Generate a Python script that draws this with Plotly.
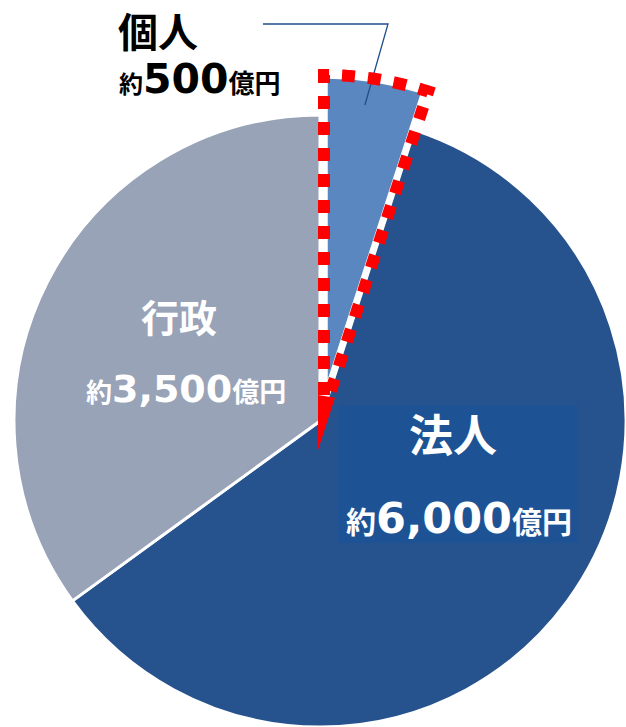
import math
import plotly.graph_objects as go

W, H = 626, 727

# Breakdown of the total (unit: 億円)
categories = ["個人", "法人", "行政"]
amounts = [500, 6000, 3500]
amount_labels = ["500", "6,000", "3,500"]
slice_colors = ["#5A87C0", "#26538D", "#98A3B7"]

# Pie geometry in pixel units (hidden axes: 1 unit = 1 px, y pointing down)
CX, CY, R = 320, 421, 306
EXPLODE_DX, EXPLODE_DY = 7, -37          # offset of the highlighted slice
OUT_DX, OUT_DY, OUT_R, OUT_W = 4, -9, 337, 12   # red dotted highlight frame

total = sum(amounts)
a0 = 0.0
a1 = 360.0 * amounts[0] / total          # angular span of the first slice


def polar_pt(cx, cy, r, deg):
    a = math.radians(deg)
    return cx + r * math.sin(a), cy - r * math.cos(a)


def arc(cx, cy, r, d0, d1, n=48):
    return [polar_pt(cx, cy, r, d0 + (d1 - d0) * i / n) for i in range(n + 1)]


fig = go.Figure()

# Highlighted (pulled-out) slice
ex, ey = CX + EXPLODE_DX, CY + EXPLODE_DY
pts = [(ex, ey)] + arc(ex, ey, R, a0, a1) + [(ex, ey)]
fig.add_trace(go.Scatter(
    x=[p[0] for p in pts], y=[p[1] for p in pts],
    mode="lines", fill="toself", fillcolor=slice_colors[0],
    line=dict(color="white", width=1.5),
    hoverinfo="text", text=f"{categories[0]}: {amounts[0]}", showlegend=False,
))

# Leader line from the 個人 label to the slice
tip = polar_pt(ex, ey, 0.92 * R, a0 + 0.43 * (a1 - a0))
lead_x = [263, 388, tip[0]]
lead_y = [24, 24, tip[1]]
fig.add_trace(go.Scatter(
    x=lead_x, y=lead_y, mode="lines",
    line=dict(color="#1F4E8C", width=1.3),
    hoverinfo="skip", showlegend=False,
))

# Main pie (first slice left empty, it is drawn pulled out above)
fig.add_trace(go.Pie(
    labels=categories, values=amounts, sort=False,
    direction="clockwise", rotation=0,
    marker=dict(
        colors=["rgba(0,0,0,0)", slice_colors[1], slice_colors[2]],
        line=dict(color=["rgba(0,0,0,0)", "white", "white"], width=3),
    ),
    textinfo="none", showlegend=False,
    domain=dict(x=[(CX - R) / W, (CX + R) / W],
                y=[1 - (CY + R) / H, 1 - (CY - R) / H]),
))

# Red dotted frame around the highlighted slice
ox, oy = CX + OUT_DX, CY + OUT_DY
h = OUT_W / 2
L = 17
left_start = polar_pt(ox, oy, L, a0)
right_end = polar_pt(ox, oy, L, a1)
frame = [left_start] + arc(ox, oy, OUT_R, a0, a1) + [right_end]
frame_path = "M " + " L ".join(f"{x:.2f},{y:.2f}" for x, y in frame)

half = math.radians((a1 - a0) / 2)
bis = math.radians((a0 + a1) / 2)
spike_tip = (ox - h / math.sin(half) * math.sin(bis),
             oy + h / math.sin(half) * math.cos(bis))
ra0, ra1 = math.radians(a0), math.radians(a1)
p_left = (ox - h * math.cos(ra0) + L * math.sin(ra0),
          oy - h * math.sin(ra0) - L * math.cos(ra0))
p_right = (ox + h * math.cos(ra1) + L * math.sin(ra1),
           oy + h * math.sin(ra1) - L * math.cos(ra1))
spike_path = (f"M {spike_tip[0]:.2f},{spike_tip[1]:.2f} L {p_left[0]:.2f},{p_left[1]:.2f} "
              f"L {p_right[0]:.2f},{p_right[1]:.2f} Z")

shapes = [
    dict(type="path", path=frame_path, xref="x", yref="y", layer="above",
         line=dict(color="#FF0000", width=OUT_W, dash="13px,13px")),
    dict(type="path", path=spike_path, xref="x", yref="y", layer="above",
         fillcolor="#FF0000", line=dict(width=0)),
    # label panel on the 法人 slice
    dict(type="rect", x0=338, x1=578, y0=405, y1=543, xref="x", yref="y",
         layer="above", fillcolor="#1D5395", line=dict(width=0)),
]


def money(num, pre, num_size, unit):
    return ("<b>"
            f'<span style="font-size:{pre}px">約</span>'
            f'<span style="font-family:DejaVu Sans;font-size:{num_size}px">{num}</span>'
            f'<span style="font-size:{unit}px">億円</span>'
            "</b>")


CJK = "Noto Sans CJK JP"
annotations = [
    dict(text=f"<b>{categories[0]}</b>", x=158, y=30, font=dict(size=40, color="black")),
    dict(text=money(amount_labels[0], 24, 41, 26), x=200, y=79, font=dict(size=24, color="black")),
    dict(text=f"<b>{categories[2]}</b>", x=179, y=315, font=dict(size=38, color="white")),
    dict(text=money(amount_labels[2], 26, 38, 27), x=186, y=389, font=dict(size=26, color="white")),
    dict(text=f"<b>{categories[1]}</b>", x=453, y=433, font=dict(size=44, color="white")),
    dict(text=money(amount_labels[1], 30, 43, 30), x=459, y=518, font=dict(size=30, color="white")),
]
for a in annotations:
    a.update(xref="x", yref="y", showarrow=False, xanchor="center", yanchor="middle")
    a["font"]["family"] = CJK

fig.update_layout(
    width=W, height=H,
    margin=dict(l=0, r=0, t=0, b=0),
    paper_bgcolor="white", plot_bgcolor="rgba(0,0,0,0)",
    xaxis=dict(range=[0, W], visible=False, fixedrange=True),
    yaxis=dict(range=[H, 0], visible=False, fixedrange=True),
    shapes=shapes, annotations=annotations,
    showlegend=False,
)

fig.write_html("out.html")
